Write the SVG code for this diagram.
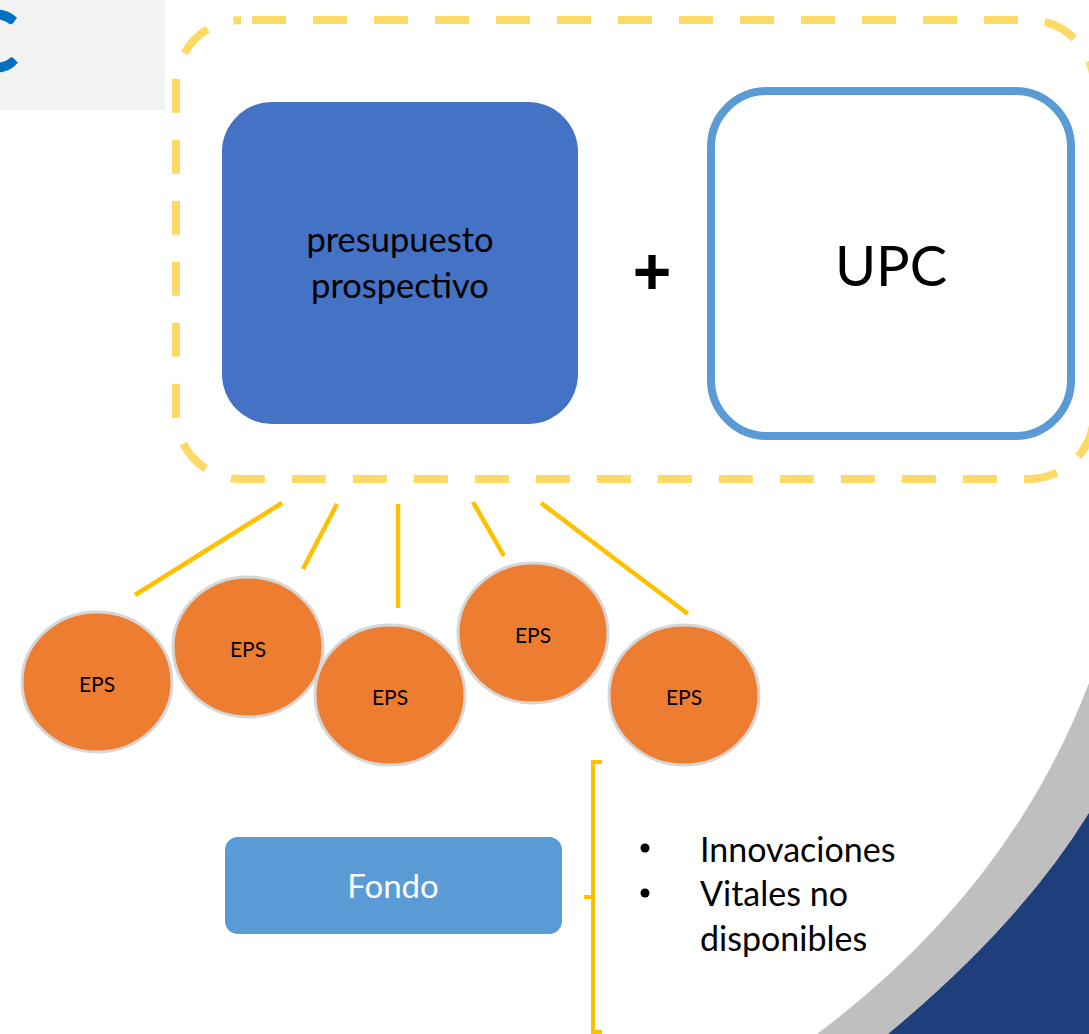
<svg xmlns="http://www.w3.org/2000/svg" width="1089" height="1034" viewBox="0 0 1089 1034">
<style>
.txt{font-family:"Lato","Liberation Sans",sans-serif;fill:#000}
.eps{fill:#ED7D31;stroke:#D6D6D6;stroke-width:3}
.epst{font-family:"Lato","Liberation Sans",sans-serif;font-size:21px;fill:#000;text-anchor:middle}
.conn{stroke:#FFC000;stroke-width:4.5;fill:none}
</style>
<rect width="1089" height="1034" fill="#FFFFFF"/>
<g id="background">
<path d="M817 1034 Q1010 890 1089 683 L1089 1034 Z" fill="#BFBFBF"/>
<path d="M888 1034 Q1020 925 1089 813 L1089 1034 Z" fill="#1E3F7B"/>
</g>
<g id="title">
<rect x="0" y="0" width="165" height="110" fill="#F2F2F2"/>
<text x="19" y="72" font-family="Lato, 'Liberation Sans', sans-serif" font-weight="bold" font-size="86" fill="#0070C0" text-anchor="end">C</text>
</g>
<g id="group-frame">
<rect x="176" y="20" width="918" height="459" rx="65" ry="65" fill="none" stroke="#FFD966" stroke-width="8" stroke-dasharray="34 27" stroke-dashoffset="50"/>
</g>
<g id="presupuesto">
<rect x="222" y="102" width="356" height="322" rx="50" ry="50" fill="#4472C4"/>
<text class="txt" x="400" y="252" font-size="34.5" text-anchor="middle">presupuesto</text>
<text class="txt" x="400" y="298" font-size="34.5" text-anchor="middle">prospectivo</text>
</g>
<g id="plus">
<text x="652" y="294" font-family="'Liberation Sans', sans-serif" font-weight="bold" font-size="66" text-anchor="middle" fill="#000">+</text>
</g>
<g id="upc">
<rect x="711" y="91" width="360" height="345" rx="56" ry="56" fill="#FFFFFF" stroke="#5B9BD5" stroke-width="8"/>
<text class="txt" x="891" y="286" font-size="56" text-anchor="middle">UPC</text>
</g>
<g id="connectors">
<line class="conn" x1="282" y1="503" x2="135" y2="595"/>
<line class="conn" x1="337" y1="504" x2="303" y2="569"/>
<line class="conn" x1="398" y1="504" x2="398" y2="608"/>
<line class="conn" x1="473" y1="502" x2="504" y2="556"/>
<line class="conn" x1="541" y1="503" x2="688" y2="614"/>
</g>
<g id="eps1"><ellipse class="eps" cx="97" cy="682" rx="75" ry="70"/><text class="epst" x="97" y="692">EPS</text></g>
<g id="eps2"><ellipse class="eps" cx="248" cy="647" rx="75" ry="70"/><text class="epst" x="248" y="657">EPS</text></g>
<g id="eps3"><ellipse class="eps" cx="390" cy="695" rx="75" ry="70"/><text class="epst" x="390" y="705">EPS</text></g>
<g id="eps4"><ellipse class="eps" cx="533" cy="633" rx="75" ry="70"/><text class="epst" x="533" y="643">EPS</text></g>
<g id="eps5"><ellipse class="eps" cx="684" cy="695" rx="75" ry="70"/><text class="epst" x="684" y="705">EPS</text></g>
<g id="fondo">
<rect x="225" y="837" width="337" height="97" rx="13" ry="13" fill="#5B9BD5"/>
<text x="393" y="898" font-family="Lato, 'Liberation Sans', sans-serif" font-size="33" fill="#FFFFFF" text-anchor="middle">Fondo</text>
</g>
<g id="bracket">
<path d="M602 762 L593 762 L593 1032 L602 1032 M593 897 L584 897" fill="none" stroke="#FFC000" stroke-width="4"/>
</g>
<g id="list">
<circle cx="645" cy="848" r="4.5" fill="#000"/>
<circle cx="645" cy="893" r="4.5" fill="#000"/>
<text class="txt" x="700" y="862" font-size="34">Innovaciones</text>
<text class="txt" x="700" y="906" font-size="34">Vitales no</text>
<text class="txt" x="700" y="951" font-size="34">disponibles</text>
</g>
</svg>
